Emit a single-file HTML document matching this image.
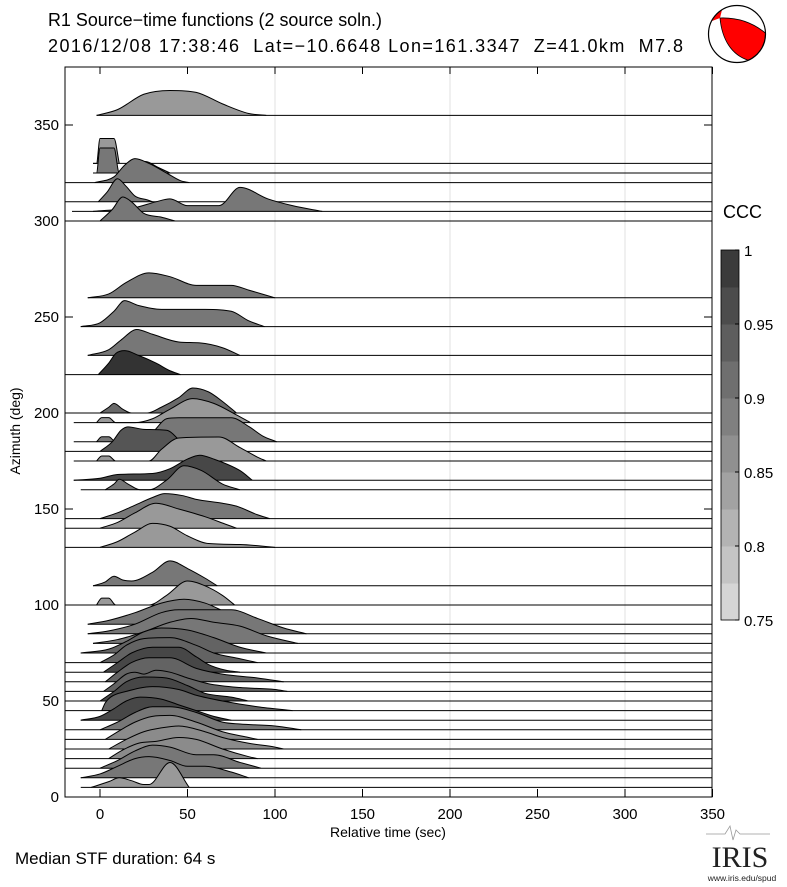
<!DOCTYPE html>
<html><head><meta charset="utf-8">
<style>
body{margin:0;background:#fff;}
svg{display:block;font-family:"Liberation Sans",sans-serif;}
</style></head>
<body>
<svg id="chart" width="787" height="887" viewBox="0 0 787 887" xmlns="http://www.w3.org/2000/svg">
  <text x="48" y="26" font-size="18" textLength="334" lengthAdjust="spacingAndGlyphs">R1 Source−time functions (2 source soln.)</text>
  <text x="48" y="52" font-size="18" textLength="635" lengthAdjust="spacing" style="white-space:pre">2016/12/08 17:38:46  Lat=−10.6648 Lon=161.3347  Z=41.0km  M7.8</text>
  <g>
    <circle cx="737" cy="34" r="28.5" fill="#fff"/>
    <path d="M720,18 Q746,17 765.3,33 L765.5,34 L764.5,41.4 L761.7,48.3 L757.2,54.2 L751.3,58.7 L748.1,60.2 C732,55 722,40 720,18 Z" fill="#ff0000" stroke="#000" stroke-width="0.8"/>
    <path d="M712,21 L714,17.5 L717,13.5 L722,9.8 L720,18 Z" fill="#ff0000"/>
    <circle cx="737" cy="34" r="28.5" fill="none" stroke="#000" stroke-width="1.2"/>
  </g>
  <g id="grid"></g>
  <g id="traces"></g>
  <g id="axes"></g>
  <g id="colorbar"></g>
  <text x="388" y="837" font-size="14" text-anchor="middle">Relative time (sec)</text>
  <text transform="translate(20,431) rotate(-90)" font-size="14" text-anchor="middle">Azimuth (deg)</text>
  <text x="15" y="864" font-size="17">Median STF duration: 64 s</text>
  <g>
    <path d="M706,834 L725,834 L730,826 L733,840 L736,830 L740,834 L770,834" fill="none" stroke="#999" stroke-width="0.8"/>
    <text x="740" y="867" font-size="30" font-family="Liberation Serif, serif" text-anchor="middle" fill="#222">IRIS</text>
    <text x="742" y="881" font-size="8.5" text-anchor="middle" fill="#222">www.iris.edu/spud</text>
  </g>
</svg>
<script>
// ---- data ----
const xTicks = [0, 50, 100, 150, 200, 250, 300, 350];
const yTicks = [0, 50, 100, 150, 200, 250, 300, 350];
const cbTicks = [0.75, 0.8, 0.85, 0.9, 0.95, 1];
const cbLevels = [0.7625, 0.7875, 0.8125, 0.8375, 0.8625, 0.8875, 0.9125, 0.9375, 0.9625, 0.9875];
const traceAz = [355, 330, 325, 320, 310, 305, 300, 260, 245, 230, 220, 200, 195, 185, 180, 175, 165, 160, 145, 140, 130, 110, 100,
  90, 85, 80, 75, 70, 65, 60, 55, 50, 45, 40, 35, 30, 25, 20, 15, 10, 5];
const traceCcc = [0.85, 0.85, 0.9, 0.9, 0.9, 0.9, 0.9, 0.9, 0.9, 0.9, 1.0, 0.92, 0.85, 0.9, 0.95, 0.85, 0.97, 0.9, 0.9, 0.85, 0.85, 0.9, 0.85,
  0.9, 0.9, 0.9, 0.93, 0.93, 0.97, 0.93, 0.93, 0.97, 0.93, 0.97, 0.9, 0.87, 0.87, 0.87, 0.9, 0.9, 0.85];
const traceStart = [-2, -4, -4, -20, -20, -16, -20, -7, -11, -7, -20, -20, -15, -15, -20, -15, -15, -11, -20, -20, -20, -4, -20,
  -7, -7, -4, -11, -20, -20, -20, -20, -20, -20, -11, -20, -20, -20, -20, -20, -11, -11];
const traceShapes = [
  [[-2,0],[10,3],[25,11],[40,13],[55,12],[70,6],[85,1],[95,0]],
  [[-4,0],[-2,0],[0,13],[8,13],[11,0]],
  [[-4,0],[-2,0],[0,13],[8,13],[11,0],[20,3],[26,6],[33,3],[40,0]],
  [[-3,0],[8,3],[14,9],[20,12.5],[28,10],[38,5],[46,1],[51,0]],
  [[-1,0],[4,5],[10,12],[15,8],[20,3],[27,1],[30,0]],
  [[-4,0],[10,1],[20,2],[32,5],[40,6.5],[50,3],[68,3],[80,12.5],[96,6.5],[110,3],[127,0]],
  [[0,0],[7,6],[13,12.5],[18,10],[25,4],[35,2],[43,0]],
  [[-7,0],[5,2],[15,8],[28,13],[40,11],[55,6.5],[75,6.5],[85,4],[100,0]],
  [[-11,0],[0,2],[8,8],[14,13.5],[22,11],[35,9],[60,9],[75,8],[85,3],[94,0]],
  [[-7,0],[5,3],[12,8],[21,13.5],[30,11],[45,7],[57,6.5],[70,4],[80,0]],
  [[-1,0],[5,6],[9,11],[14,12.5],[22,10],[32,6],[40,2],[46,0]],
  [[0,0],[5,3],[8,5],[13,2],[18,0],[27,0],[35,3],[45,8],[53,13],[62,11],[70,6],[78,0]],
  [[-2,0],[1,2.6],[5,2.6],[9,0],[20,0],[30,2],[40,7],[53,12.5],[65,10],[78,4],[86,0]],
  [[-2,0],[1,2.6],[5,2.6],[9,0],[20,0],[30,5],[38,12],[45,12.5],[75,12.5],[85,8],[93,3],[101,0]],
  [[0,0],[7,5],[12,11],[16,12.8],[25,11.5],[38,11],[45,6],[50,0]],
  [[-2,0],[1,2.6],[5,2.6],[9,0],[28,0],[35,6],[45,12],[68,12.5],[80,7],[90,2],[95,0]],
  [[-15,0],[0,1],[10,3],[30,3.5],[40,6],[50,11],[57,13],[65,11],[80,5],[87,0]],
  [[3,0],[8,3],[11,5.5],[16,3],[23,0],[28,0],[38,5],[48,12.5],[58,10],[70,3],[80,0]],
  [[0,0],[10,3],[20,7],[30,11],[37,13],[47,12],[55,10],[70,8],[78,6.5],[90,2],[97,0]],
  [[0,0],[10,3],[20,8],[32,13],[45,10],[60,6],[72,2],[78,0]],
  [[0,0],[10,3],[20,8],[30,12.5],[40,11],[50,6],[62,2],[80,1.5],[100,0]],
  [[-4,0],[3,2],[8,5],[13,3],[18,2.5],[30,7],[40,13],[50,9],[60,4],[67,0]],
  [[-2,0],[1,3.6],[5,3.6],[9,0],[28,0],[38,5],[50,12.5],[60,10],[70,5],[77,0]],
  [[-7,0],[5,2],[20,6],[35,11],[48,13],[60,11],[75,5],[90,1],[97,0]],
  [[-7,0],[5,1.5],[20,5],[35,11],[45,12.5],[75,12.5],[90,8],[105,3],[118,0]],
  [[-4,0],[10,2],[25,6],[40,11],[52,13],[65,11],[80,9],[95,4],[113,0]],
  [[-11,0],[5,2],[15,6],[25,11],[35,13],[50,12],[65,8],[80,3],[95,0]],
  [[0,0],[8,4],[15,9],[25,12.5],[40,13],[55,9],[65,5],[80,2],[90,0]],
  [[2,0],[10,5],[18,10],[30,13],[45,13],[55,8],[62,4],[72,1],[80,0]],
  [[3,0],[10,5],[18,10],[28,12.5],[40,12.5],[55,7],[70,4],[90,2],[105,0]],
  [[2,0],[8,4],[15,9],[20,10],[25,9],[32,11],[40,10],[50,7],[62,4],[80,2],[100,1],[107,0]],
  [[0,0],[8,5],[15,10],[25,12.5],[38,12],[50,8],[60,4],[75,2],[85,0]],
  [[1,0],[3,4],[6,7],[15,10],[30,12.5],[45,11],[55,8],[70,5],[90,2],[110,0]],
  [[-11,0],[0,2],[8,6],[15,10],[23,12],[35,11],[45,8],[55,5],[65,2],[75,0]],
  [[0,0],[10,4],[20,9],[30,12],[40,12],[55,9],[70,4],[80,3],[100,2],[115,0]],
  [[3,0],[12,5],[20,9],[30,12],[40,12.5],[55,9],[70,4],[85,1],[90,0]],
  [[5,0],[15,5],[25,9],[35,11],[45,12],[60,9],[70,6],[85,3],[100,1],[105,0]],
  [[5,0],[12,4],[22,8],[32,9],[45,11],[55,10],[70,5],[85,1],[90,0]],
  [[0,0],[10,4],[20,9],[30,12],[40,11],[55,7],[65,7],[80,3],[92,0]],
  [[-11,0],[0,2],[10,6],[20,10],[28,11],[40,9],[50,6],[60,6],[75,3],[85,0]],
  [[-5,0],[5,3],[11,5],[18,3.5],[25,1.5],[28,1.5],[40,13],[51,0]]
];
// ---- scales ----
const PLOT_TOP = 67;
const X = t => 100 + t * 1.75;
const Y = az => 797 - az * 1.92;
const H = a => a * 1.92;
const grayOf = c => { const g = Math.round(221 - (Math.max(0.75, Math.min(1, c)) - 0.75) / 0.25 * 170); return `rgb(${g},${g},${g})`; };
const NS = "http://www.w3.org/2000/svg";
function mk(tag, attrs, parent) { const e = document.createElementNS(NS, tag); for (const k in attrs) e.setAttribute(k, attrs[k]); parent.appendChild(e); return e; }

function monoPath(pts) {
  const n = pts.length; const d = [], m = new Array(n);
  for (let i = 0; i < n - 1; i++) d.push((pts[i+1][1] - pts[i][1]) / (pts[i+1][0] - pts[i][0]));
  m[0] = d[0]; m[n-1] = d[n-2];
  for (let i = 1; i < n - 1; i++) m[i] = (d[i-1] * d[i] <= 0) ? 0 : (d[i-1] + d[i]) / 2;
  for (let i = 0; i < n - 1; i++) {
    if (d[i] === 0) { m[i] = 0; m[i+1] = 0; continue; }
    const a = m[i] / d[i], b = m[i+1] / d[i], s = a*a + b*b;
    if (s > 9) { const tt = 3 / Math.sqrt(s); m[i] = tt * a * d[i]; m[i+1] = tt * b * d[i]; }
  }
  let p = "";
  for (let i = 0; i < n - 1; i++) {
    const h = pts[i+1][0] - pts[i][0];
    p += ` C${(pts[i][0]+h/3).toFixed(2)},${(pts[i][1]+m[i]*h/3).toFixed(2)} ${(pts[i+1][0]-h/3).toFixed(2)},${(pts[i+1][1]-m[i+1]*h/3).toFixed(2)} ${pts[i+1][0].toFixed(2)},${pts[i+1][1].toFixed(2)}`;
  }
  return p;
}

const grid = document.getElementById('grid');
[100, 200, 300].forEach(v => {
  const l = mk('line', {x1: X(v), x2: X(v), y1: PLOT_TOP, y2: 797, stroke: '#e2e2e2', 'stroke-width': 1}, grid);
  
  
});

const tr = document.getElementById('traces');
traceAz.forEach((az, i) => {
  const g = mk('g', {}, tr);
  
  
  const base = Y(az);
  const pts = traceShapes[i].map(p => [X(p[0]), base - H(p[1])]);
  const curve = monoPath(pts);
  const fill = mk('path', {d: `M${pts[0][0]},${base} L${pts[0][0]},${pts[0][1]}` + curve + ` L${pts[pts.length-1][0]},${base} Z`, fill: grayOf(traceCcc[i]), stroke: 'none'}, g);
  
  
  const outline = mk('path', {d: `M${pts[0][0]},${pts[0][1]}` + curve, fill: 'none', stroke: '#000', 'stroke-width': 1}, g);
  
  
  const bl = mk('line', {x1: X(traceStart[i]), x2: 712, y1: base, y2: base, stroke: '#000', 'stroke-width': 1}, g);
  
  
});

const ax = document.getElementById('axes');
const frame = mk('rect', {x: 65, y: PLOT_TOP, width: 647, height: 797 - PLOT_TOP, fill: 'none', stroke: '#000', 'stroke-width': 1}, ax);


xTicks.forEach(v => {
  const t = mk('line', {x1: X(v), x2: X(v), y1: 797, y2: 789, stroke: '#000'}, ax);
  
  
  const tt = mk('line', {x1: X(v), x2: X(v), y1: PLOT_TOP, y2: PLOT_TOP + 7, stroke: '#000'}, ax);
  
  
  const lb = mk('text', {x: X(v), y: 819, 'font-size': 15, 'text-anchor': 'middle'}, ax);
  lb.textContent = v;
  
  
});
yTicks.forEach(v => {
  const t = mk('line', {x1: 65, x2: 73, y1: Y(v), y2: Y(v), stroke: '#000'}, ax);
  
  
  const t2 = mk('line', {x1: 704, x2: 712, y1: Y(v), y2: Y(v), stroke: '#000'}, ax);
  
  
  const lb = mk('text', {x: 59, y: Y(v) + 5, 'font-size': 15, 'text-anchor': 'end'}, ax);
  lb.textContent = v;
  
  
});

const cb = document.getElementById('colorbar');
const cbTop = 250, cbBot = 620, cbX = 721, cbW = 18;
const CY = c => cbBot - (c - 0.75) / 0.25 * (cbBot - cbTop);
cbLevels.forEach(c => {
  const r = mk('rect', {x: cbX, y: CY(c + 0.0125), width: cbW, height: CY(c - 0.0125) - CY(c + 0.0125) + 0.5, fill: grayOf(c)}, cb);
  
  
});
const cbf = mk('rect', {x: cbX, y: cbTop, width: cbW, height: cbBot - cbTop, fill: 'none', stroke: '#000', 'stroke-width': 0.8}, cb);


cbTicks.forEach(c => {
  const t = mk('line', {x1: cbX + cbW - 4, x2: cbX + cbW, y1: CY(c), y2: CY(c), stroke: '#000'}, cb);
  
  
  const lb = mk('text', {x: 744, y: CY(c) + 6, 'font-size': 15}, cb);
  lb.textContent = c;
  
  
});
const cbt = mk('text', {x: 723, y: 218, 'font-size': 18}, cb);
cbt.textContent = 'CCC';


</script>
</body></html>
